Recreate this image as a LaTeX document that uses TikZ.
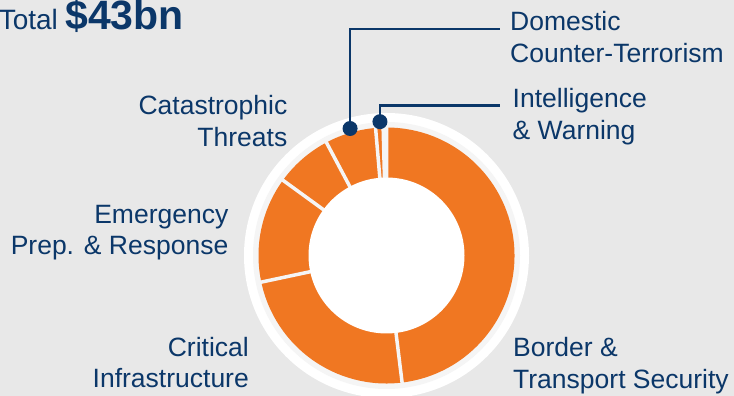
\documentclass[tikz,border=0pt]{standalone}
\usepackage{fontspec}
\setmainfont{Liberation Sans}
\definecolor{navy}{RGB}{11,55,105}
\definecolor{segorange}{RGB}{240,119,34}
\definecolor{bggray}{RGB}{232,232,232}
\definecolor{gapgray}{RGB}{245,245,245}
\tikzset{
  lbl/.style={inner sep=0pt, text=navy, font=\fontsize{26.5}{31.5}\selectfont},
  lblL/.style={lbl, align=right, anchor=base east},
  lblR/.style={lbl, align=left, anchor=base west},
  gapline/.style={draw=gapgray, line width=3.5pt},
  slice/.style={fill=segorange},
  leader/.style={draw=navy, line width=2.6pt},
  dot/.style={circle, fill=navy, inner sep=0pt, minimum size=15pt}
}
\begin{document}
\begin{tikzpicture}[x=1pt,y=1pt]
\useasboundingbox (0,0) rectangle (734,396);
\fill[bggray] (0,0) rectangle (734,396);
% title
\node[lbl, anchor=base east] (total) at (184,366.7)
  {{\fontsize{28}{31}\selectfont Total} {\fontsize{41}{44}\selectfont\bfseries \$43bn}};
% donut
\begin{scope}[shift={(386.5,140.5)}]
  \fill[white] (0,0) circle[radius=142.5];
  \fill[gapgray] (0,0) circle[radius=133.5];
  % slices (counter-clockwise angles)
  \foreach \a/\b in {-83/89.9, 91.5/94.9, 94.9/118, 118/144, 144/192, 192/277}{
    \fill[slice] (\a:128) arc[start angle=\a, end angle=\b, radius=128]
      -- (\b:70) arc[start angle=\b, end angle=\a, radius=70] -- cycle;
  }
  \foreach \g in {-83, 89.9, 91.5, 94.9, 118, 144, 192}{
    \draw[gapline] (\g:60) -- (\g:130);
  }
  \fill[white] (0,0) circle[radius=78];
  \node[dot] (dotD) at (106:132.1) {};
  \node[dot] (dotI) at (92.8:134) {};
\end{scope}
% leader lines
\coordinate (endD) at (500,367);
\coordinate (endI) at (500,290.3);
\draw[leader] (dotD.center) |- (endD);
\draw[leader] (dotI.center) |- (endI);
% labels (anchor = baseline of last line)
\node[lblR] (domestic) at (510,333.5) {Domestic\\Counter-Terrorism};
\node[lblR] (intel) at (512.5,256.5) {Intelligence\\\&~Warning};
\node[lblR] (border) at (513,7.5) {Border \&\\Transport Security};
\node[lblL] (catas) at (287.5,249.5) {Catastrophic\\Threats};
\node[lblL] (emerg) at (228.5,141) {Emergency\\Prep. \& Response};
\node[lblL] (crit) at (249,8) {Critical\\Infrastructure};
\end{tikzpicture}
\end{document}
